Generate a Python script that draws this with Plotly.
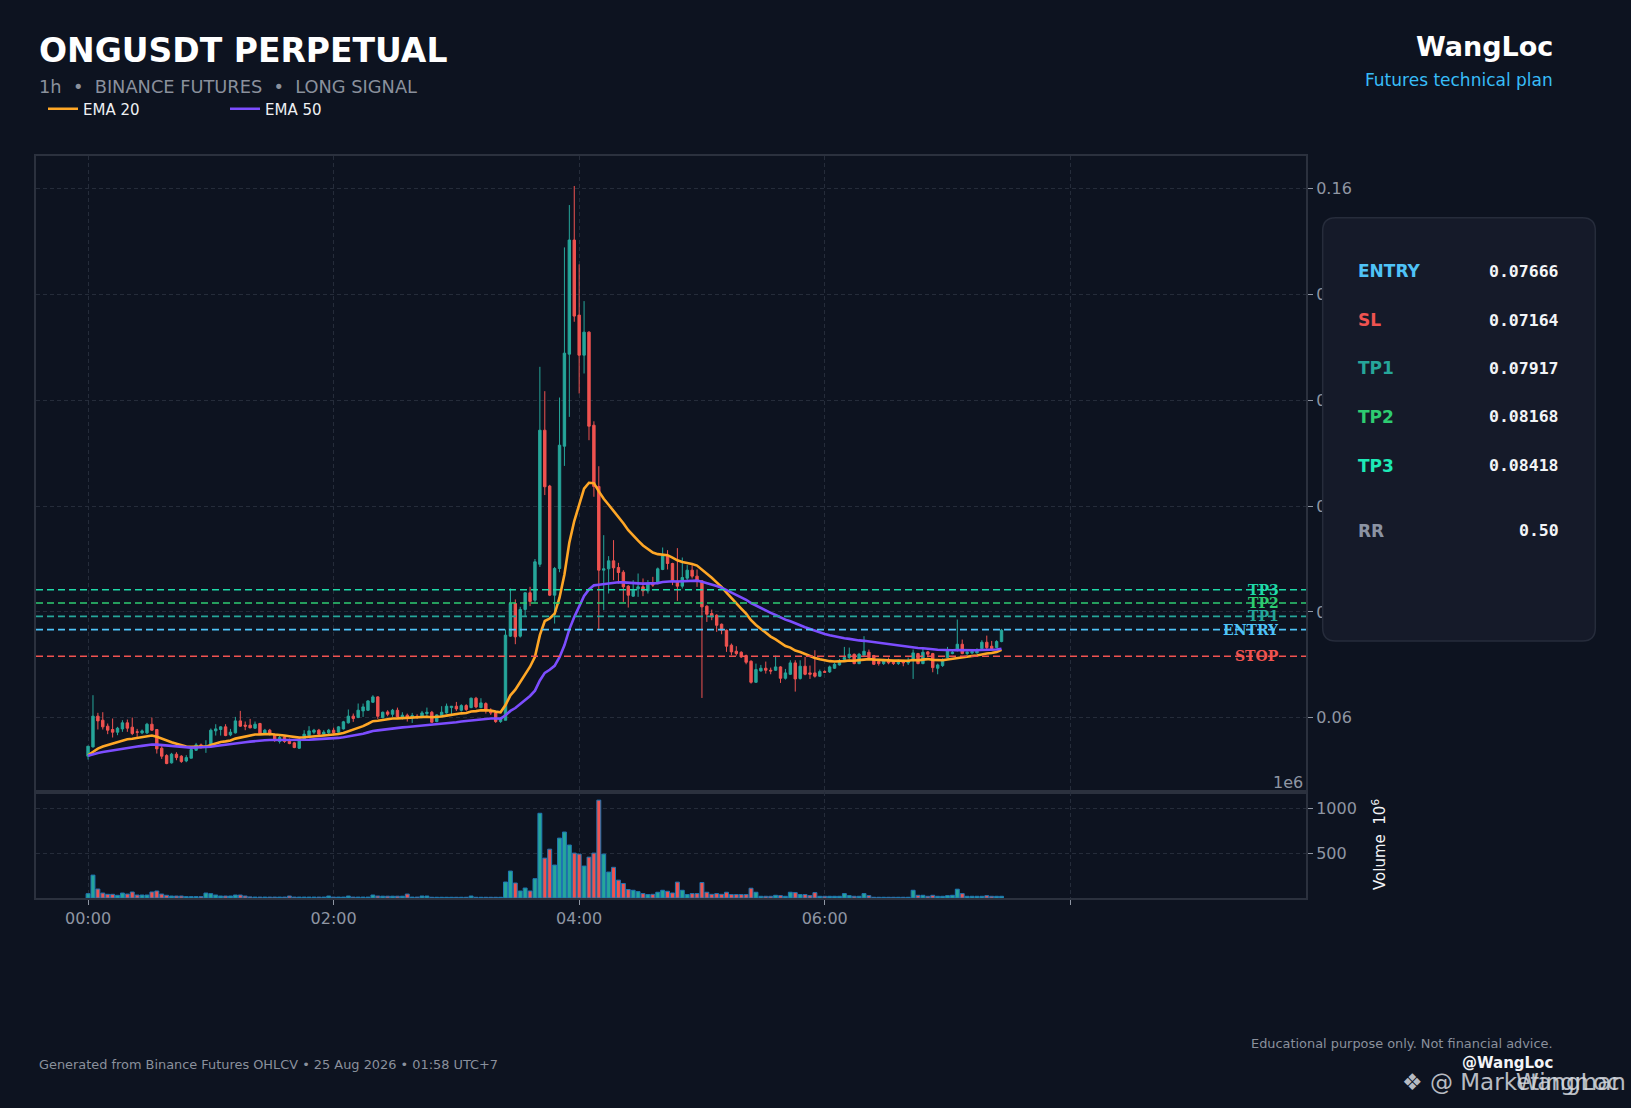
import pandas as pd
import plotly.graph_objects as go
from plotly.subplots import make_subplots

# --- data (index 0 = 00:00) ---
opens = [
    0.05276, 0.05452, 0.06032, 0.05956, 0.05843, 0.05780, 0.05729, 0.05792, 0.05906, 0.05824,
    0.05736, 0.05717, 0.05717, 0.05880, 0.05780, 0.05427, 0.05288, 0.05150, 0.05314, 0.05276,
    0.05187, 0.05238, 0.05389, 0.05490, 0.05440, 0.05502, 0.05755, 0.05780, 0.05830, 0.05679,
    0.05717, 0.05943, 0.05862, 0.05862, 0.05805, 0.05893, 0.05704, 0.05767, 0.05679, 0.05553,
    0.05641, 0.05578, 0.05528, 0.05427, 0.05578, 0.05666, 0.05729, 0.05767, 0.05692, 0.05717,
    0.05767, 0.05729, 0.05792, 0.05906, 0.06032, 0.06006, 0.06131, 0.06144, 0.06295, 0.06396,
    0.06005, 0.06112, 0.06068, 0.06144, 0.06018, 0.06050, 0.06012, 0.06031, 0.06031, 0.06081,
    0.06106, 0.05930, 0.06043, 0.06094, 0.06194, 0.06220, 0.06144, 0.06232, 0.06194, 0.06371,
    0.06194, 0.06270, 0.06131, 0.06094, 0.05930, 0.05955, 0.07543, 0.08160, 0.07543, 0.08047,
    0.08362, 0.08222, 0.08900, 0.11432, 0.10377, 0.08317, 0.08820, 0.11130, 0.12868, 0.15023,
    0.13606, 0.12849, 0.13284, 0.11526, 0.10370, 0.08789, 0.08814, 0.08965, 0.08839, 0.08751,
    0.08487, 0.08298, 0.08436, 0.08474, 0.08398, 0.08537, 0.08550, 0.08802, 0.09060, 0.08915,
    0.08581, 0.08487, 0.08638, 0.08789, 0.08676, 0.08587, 0.08109, 0.07970, 0.07938, 0.07768,
    0.07655, 0.07372, 0.07258, 0.07239, 0.07176, 0.07069, 0.06672, 0.06886, 0.06937, 0.06899,
    0.06899, 0.06962, 0.06748, 0.06823, 0.07038, 0.06742, 0.06975, 0.06849, 0.06849, 0.06786,
    0.06874, 0.06868, 0.06937, 0.07000, 0.07101, 0.07138, 0.07201, 0.07025, 0.07183, 0.07239,
    0.07176, 0.07063, 0.07025, 0.07088, 0.07063, 0.07025, 0.07063, 0.07038, 0.07113, 0.07214,
    0.07025, 0.07246, 0.07214, 0.06937, 0.06987, 0.07138, 0.07214, 0.07277, 0.07390, 0.07214,
    0.07227, 0.07227, 0.07309, 0.07428, 0.07353, 0.07327, 0.07441,
]
highs = [
    0.05465, 0.06428, 0.06095, 0.06107, 0.05893, 0.05988, 0.05830, 0.05956, 0.05969, 0.06006,
    0.05792, 0.05780, 0.05906, 0.06006, 0.05780, 0.05465, 0.05314, 0.05339, 0.05351, 0.05295,
    0.05295, 0.05427, 0.05528, 0.05515, 0.05578, 0.05799, 0.05880, 0.05843, 0.05880, 0.05792,
    0.06019, 0.06132, 0.05931, 0.05981, 0.05931, 0.05906, 0.05792, 0.05792, 0.05704, 0.05666,
    0.05666, 0.05610, 0.05547, 0.05578, 0.05767, 0.05843, 0.05792, 0.05792, 0.05767, 0.05792,
    0.05817, 0.05843, 0.05943, 0.06158, 0.06082, 0.06271, 0.06270, 0.06333, 0.06428, 0.06409,
    0.06119, 0.06144, 0.06169, 0.06194, 0.06106, 0.06081, 0.06094, 0.06068, 0.06131, 0.06194,
    0.06131, 0.06068, 0.06220, 0.06270, 0.06220, 0.06301, 0.06258, 0.06258, 0.06384, 0.06396,
    0.06371, 0.06295, 0.06182, 0.06131, 0.06018, 0.07669, 0.08443, 0.08236, 0.08097, 0.08374,
    0.08475, 0.09000, 0.12629, 0.12169, 0.10400, 0.08850, 0.12049, 0.14884, 0.15684, 0.16044,
    0.14563, 0.13870, 0.13300, 0.11600, 0.10752, 0.09450, 0.09054, 0.09356, 0.08928, 0.08789,
    0.08506, 0.08600, 0.08726, 0.08632, 0.08600, 0.08663, 0.08839, 0.09217, 0.09167, 0.08928,
    0.09205, 0.09028, 0.08884, 0.08884, 0.08802, 0.08600, 0.08127, 0.08045, 0.07957, 0.07781,
    0.07668, 0.07403, 0.07353, 0.07258, 0.07195, 0.07088, 0.07025, 0.07000, 0.07063, 0.06949,
    0.07176, 0.06975, 0.06924, 0.07088, 0.07088, 0.07088, 0.07151, 0.06987, 0.07277, 0.06912,
    0.06899, 0.06987, 0.07038, 0.07113, 0.07340, 0.07327, 0.07214, 0.07227, 0.07542, 0.07290,
    0.07189, 0.07101, 0.07113, 0.07138, 0.07088, 0.07101, 0.07088, 0.07138, 0.07290, 0.07227,
    0.07302, 0.07264, 0.07227, 0.07025, 0.07126, 0.07340, 0.07277, 0.07857, 0.07479, 0.07264,
    0.07264, 0.07315, 0.07466, 0.07554, 0.07453, 0.07466, 0.07680,
]
lows = [
    0.05213, 0.05440, 0.05780, 0.05780, 0.05692, 0.05629, 0.05673, 0.05736, 0.05736, 0.05673,
    0.05641, 0.05692, 0.05692, 0.05754, 0.05326, 0.05225, 0.05125, 0.05137, 0.05200, 0.05150,
    0.05162, 0.05238, 0.05376, 0.05420, 0.05339, 0.05490, 0.05666, 0.05666, 0.05654, 0.05654,
    0.05704, 0.05830, 0.05767, 0.05805, 0.05792, 0.05692, 0.05692, 0.05666, 0.05547, 0.05515,
    0.05528, 0.05502, 0.05427, 0.05414, 0.05565, 0.05641, 0.05692, 0.05666, 0.05666, 0.05692,
    0.05666, 0.05717, 0.05780, 0.05893, 0.05925, 0.05994, 0.06018, 0.06131, 0.06282, 0.05980,
    0.05993, 0.06031, 0.06018, 0.06005, 0.05968, 0.05930, 0.05904, 0.05980, 0.05993, 0.06018,
    0.05905, 0.05917, 0.06018, 0.06081, 0.06068, 0.06131, 0.06119, 0.06131, 0.06182, 0.06182,
    0.06182, 0.06081, 0.06056, 0.05905, 0.05905, 0.05955, 0.07530, 0.07391, 0.07517, 0.07921,
    0.08110, 0.08180, 0.08850, 0.10207, 0.08300, 0.07781, 0.08750, 0.10758, 0.11684, 0.13480,
    0.12125, 0.12503, 0.11243, 0.10175, 0.07674, 0.08033, 0.08348, 0.08600, 0.08537, 0.08190,
    0.08083, 0.08285, 0.08285, 0.08298, 0.08348, 0.08474, 0.08524, 0.08789, 0.08802, 0.08506,
    0.08209, 0.08443, 0.08600, 0.08632, 0.08474, 0.06376, 0.07812, 0.07844, 0.07624, 0.07579,
    0.07246, 0.07182, 0.07176, 0.07132, 0.07012, 0.06647, 0.06660, 0.06874, 0.06836, 0.06823,
    0.06886, 0.06660, 0.06723, 0.06811, 0.06496, 0.06723, 0.06805, 0.06735, 0.06760, 0.06773,
    0.06849, 0.06849, 0.06924, 0.06987, 0.07075, 0.07113, 0.07012, 0.07012, 0.07164, 0.07113,
    0.07000, 0.06987, 0.07000, 0.07012, 0.07000, 0.07000, 0.06975, 0.07000, 0.06735, 0.07012,
    0.07012, 0.07151, 0.06861, 0.06823, 0.06962, 0.07126, 0.07201, 0.07252, 0.07201, 0.07189,
    0.07201, 0.07214, 0.07290, 0.07277, 0.07290, 0.07315, 0.07428,
]
closes = [
    0.05465, 0.06032, 0.05943, 0.05830, 0.05767, 0.05729, 0.05805, 0.05906, 0.05805, 0.05704,
    0.05729, 0.05754, 0.05880, 0.05767, 0.05414, 0.05276, 0.05137, 0.05314, 0.05250, 0.05175,
    0.05250, 0.05402, 0.05490, 0.05452, 0.05465, 0.05767, 0.05792, 0.05830, 0.05666, 0.05729,
    0.05943, 0.05843, 0.05843, 0.05811, 0.05880, 0.05704, 0.05767, 0.05704, 0.05578, 0.05628,
    0.05553, 0.05515, 0.05440, 0.05566, 0.05692, 0.05754, 0.05767, 0.05692, 0.05729, 0.05767,
    0.05717, 0.05830, 0.05925, 0.06032, 0.05988, 0.06145, 0.06207, 0.06320, 0.06396, 0.06031,
    0.06106, 0.06068, 0.06144, 0.06018, 0.06050, 0.06005, 0.06043, 0.06024, 0.06094, 0.06106,
    0.05917, 0.06056, 0.06106, 0.06220, 0.06220, 0.06169, 0.06232, 0.06157, 0.06371, 0.06207,
    0.06283, 0.06144, 0.06094, 0.05930, 0.05980, 0.07562, 0.08160, 0.07530, 0.08047, 0.08362,
    0.08198, 0.08947, 0.11432, 0.10364, 0.08317, 0.08821, 0.11149, 0.12887, 0.15023, 0.13587,
    0.12849, 0.13284, 0.11508, 0.10370, 0.08789, 0.08814, 0.08965, 0.08833, 0.08745, 0.08474,
    0.08316, 0.08411, 0.08474, 0.08398, 0.08524, 0.08506, 0.08814, 0.09060, 0.08915, 0.08600,
    0.08487, 0.08650, 0.08789, 0.08676, 0.08600, 0.08096, 0.07957, 0.07907, 0.07749, 0.07655,
    0.07353, 0.07246, 0.07214, 0.07151, 0.07050, 0.06672, 0.06912, 0.06937, 0.06899, 0.06886,
    0.06962, 0.06748, 0.06849, 0.07038, 0.06735, 0.06975, 0.06823, 0.06823, 0.06786, 0.06874,
    0.06861, 0.06962, 0.07012, 0.07063, 0.07138, 0.07201, 0.07025, 0.07201, 0.07258, 0.07138,
    0.07012, 0.07025, 0.07088, 0.07038, 0.07025, 0.07075, 0.07038, 0.07088, 0.07227, 0.07025,
    0.07239, 0.07201, 0.06949, 0.07000, 0.07101, 0.07264, 0.07239, 0.07390, 0.07214, 0.07239,
    0.07252, 0.07290, 0.07428, 0.07327, 0.07309, 0.07441, 0.07655,
]
# volume in millions (axis offset 1e6)
volumes = [
    48, 255, 100, 55, 41, 41, 30, 55, 44, 67,
    33, 33, 33, 67, 78, 44, 30, 22, 22, 22,
    15, 15, 15, 15, 55, 48, 33, 22, 22, 22,
    33, 33, 22, 12, 10, 10, 10, 10, 10, 10,
    10, 22, 10, 10, 10, 10, 10, 10, 10, 22,
    10, 10, 10, 22, 10, 10, 10, 10, 33, 22,
    20, 20, 20, 20, 20, 44, 10, 10, 22, 22,
    8, 8, 8, 8, 8, 8, 8, 8, 22, 8,
    8, 8, 8, 8, 8, 178, 300, 167, 78, 111,
    78, 215, 944, 444, 544, 367, 667, 735, 590, 500,
    489, 356, 455, 500, 1090, 489, 289, 342, 199, 162,
    94, 86, 71, 49, 38, 41, 64, 86, 75, 56,
    177, 86, 38, 49, 49, 173, 64, 41, 49, 41,
    64, 38, 38, 38, 38, 109, 64, 19, 19, 19,
    30, 26, 19, 64, 60, 38, 38, 26, 60, 19,
    19, 19, 19, 19, 49, 26, 19, 19, 49, 26,
    8, 8, 8, 8, 8, 8, 8, 8, 86, 30,
    30, 19, 30, 19, 19, 26, 30, 98, 49, 19,
    19, 19, 19, 26, 19, 19, 19,
]
tick_index = [0, 50, 100, 150, 200]
tick_labels = ["00:00", "02:00", "04:00", "06:00", ""]
price_ticks = [0.06, 0.08, 0.10, 0.12, 0.14, 0.16]

level_names = ["TP3", "TP2", "TP1", "ENTRY", "STOP"]
level_values = [0.08418, 0.08168, 0.07917, 0.07666, 0.07164]
level_colors = ["#1fd9a8", "#2ecc71", "#26a69a", "#4fc3f7", "#ef5350"]

plan_labels = ["ENTRY", "SL", "TP1", "TP2", "TP3", "RR"]
plan_values = ["0.07666", "0.07164", "0.07917", "0.08168", "0.08418", "0.50"]
plan_colors = ["#4fc3f7", "#ef5350", "#26a69a", "#2ecc71", "#1de9b6", "#8b93a3"]

BG = "#0d1320"
GRID = "#252c3a"
FRAME = "#2b313e"
TICK = "#8f96a3"
UP, DOWN = "#26a69a", "#ef5350"
FONT = "DejaVu Sans"

W, H = 1631, 1108
L, R, T, B = 36, 1306, 156, 898


def px(x):
    return (x - L) / (R - L)


def py(y):
    return (B - y) / (B - T)


idx = list(range(len(closes)))
s = pd.Series([opens[0]] + closes)
ema20 = s.ewm(span=20, adjust=False).mean().iloc[1:].tolist()
ema50 = s.ewm(span=50, adjust=False).mean().iloc[1:].tolist()
vol_colors = [UP if c >= o else DOWN for o, c in zip(opens, closes)]

fig = make_subplots(rows=2, cols=1, shared_xaxes=True, vertical_spacing=0,
                    row_heights=[792 - T, B - 792])

fig.add_trace(go.Candlestick(
    x=idx, open=opens, high=highs, low=lows, close=closes,
    increasing=dict(line=dict(color=UP, width=1), fillcolor=UP),
    decreasing=dict(line=dict(color=DOWN, width=1), fillcolor=DOWN),
    showlegend=False, name="ONGUSDT"), row=1, col=1)
fig.add_trace(go.Scatter(x=idx, y=ema20, mode="lines", name="EMA 20",
                         line=dict(color="#ffa726", width=2.6)), row=1, col=1)
fig.add_trace(go.Scatter(x=idx, y=ema50, mode="lines", name="EMA 50",
                         line=dict(color="#7c4dff", width=2.6)), row=1, col=1)
fig.add_trace(go.Bar(x=idx, y=volumes, marker=dict(color=vol_colors, line=dict(color="#1f77b4", width=1)),
                     width=0.8, showlegend=False, name="Volume"), row=2, col=1)

# trade levels
for name, val, col in zip(level_names, level_values, level_colors):
    fig.add_shape(type="line", xref="x domain", yref="y", x0=0, x1=1, y0=val, y1=val,
                  line=dict(color=col, width=1.6, dash="7px,4px"), layer="above")
    fig.add_annotation(xref="paper", yref="y", x=px(1281), y=val, text=f"<b>{name}</b>",
                       showarrow=False, xanchor="right", yanchor="middle",
                       font=dict(family="DejaVu Serif", size=14, color=col))

axis_common = dict(showline=True, linecolor=FRAME, linewidth=2, mirror=True,
                   gridcolor=GRID, griddash="4px,3px", gridwidth=1, zeroline=False)
fig.update_xaxes(range=[-10.6, 248], tickvals=tick_index, ticktext=tick_labels, **axis_common)
fig.update_xaxes(showticklabels=False, ticks="", rangeslider_visible=False, row=1, col=1)
fig.update_xaxes(ticks="outside", ticklen=5, tickcolor=TICK, tickwidth=1,
                 tickfont=dict(family=FONT, size=16, color=TICK), row=2, col=1)
fig.update_yaxes(side="right", range=[0.046, 0.1661], tickvals=price_ticks,
                 ticktext=[f"{v:.2f}" for v in price_ticks], ticks="outside", ticklen=5,
                 tickcolor=TICK, tickfont=dict(family=FONT, size=16, color=TICK),
                 **axis_common, row=1, col=1)
fig.update_yaxes(side="right", range=[0, 1181], tickvals=[500, 1000], ticktext=["500", "1000"],
                 ticks="outside", ticklen=5, tickcolor=TICK,
                 tickfont=dict(family=FONT, size=16, color=TICK), **axis_common, row=2, col=1)

# plan panel
x0, x1, yt, yb = px(1322.7), px(1595.3), py(217.7), py(641)
rx, ry = 13 / (R - L), 13 / (B - T)
panel = (f"M {x0 + rx},{yt} L {x1 - rx},{yt} Q {x1},{yt} {x1},{yt - ry} "
         f"L {x1},{yb + ry} Q {x1},{yb} {x1 - rx},{yb} L {x0 + rx},{yb} "
         f"Q {x0},{yb} {x0},{yb + ry} L {x0},{yt - ry} Q {x0},{yt} {x0 + rx},{yt} Z")
fig.add_shape(type="path", xref="paper", yref="paper", path=panel, fillcolor="#151a29",
              line=dict(color="#262c3b", width=1.5), layer="above")
row_y = [271, 320, 368.3, 416.7, 465.7, 530.7]
for lab, val, col, yy in zip(plan_labels, plan_values, plan_colors, row_y):
    fig.add_annotation(xref="paper", yref="paper", x=px(1356), y=py(yy), text=f"<b>{lab}</b>",
                       showarrow=False, xanchor="left", yanchor="middle",
                       font=dict(family=FONT, size=17, color=col))
    fig.add_annotation(xref="paper", yref="paper", x=px(1561), y=py(yy), text=f"<b>{val}</b>",
                       showarrow=False, xanchor="right", yanchor="middle",
                       font=dict(family="DejaVu Sans Mono", size=16.5, color="#f2f4f7"))

texts = [
    ("<b>ONGUSDT PERPETUAL</b>", 37, 50, "left", FONT, 33, "#ffffff"),
    ("1h  •  BINANCE FUTURES  •  LONG SIGNAL", 37, 86.5, "left", FONT, 17.8, "#8a909c"),
    ("<b>WangLoc</b>", 1555, 46.5, "right", FONT, 27, "#ffffff"),
    ("Futures technical plan", 1555, 80, "right", FONT, 17, "#38bdf8"),
    ("Generated from Binance Futures OHLCV • 25 Aug 2026 • 01:58 UTC+7", 37, 1064, "left", FONT, 12.9, "#8a909c"),
    ("Educational purpose only. Not financial advice.", 1555, 1043, "right", FONT, 12.9, "#8a909c"),
    ("<b>@WangLoc</b>", 1555, 1063, "right", FONT, 15, "#f2f4f7"),
    ("1e6", 1305, 782, "right", FONT, 16, TICK),
]
for txt, xx, yy, anchor, fam, size, col in texts:
    fig.add_annotation(xref="paper", yref="paper", x=px(xx), y=py(yy), text=txt, showarrow=False,
                       xanchor=anchor, yanchor="middle", font=dict(family=fam, size=size, color=col))

fig.add_annotation(xref="paper", yref="paper", x=px(1379), y=py(845), text="Volume  10<sup>6</sup>",
                   textangle=-90, showarrow=False, xanchor="center", yanchor="middle",
                   font=dict(family=FONT, size=15, color="#f2f4f7"))

# watermark overlay
fig.add_annotation(xref="paper", yref="paper", x=px(1400), y=py(1082), text="❖ @ Marketingman",
                   showarrow=False, xanchor="left", yanchor="middle", opacity=0.85,
                   font=dict(family=FONT, size=23, color="#d5d9df"))
fig.add_annotation(xref="paper", yref="paper", x=px(1622), y=py(1082), text="WangLoc",
                   showarrow=False, xanchor="right", yanchor="middle", opacity=0.85,
                   font=dict(family=FONT, size=23, color="#d5d9df"))

fig.update_layout(
    width=W, height=H,
    margin=dict(l=L, r=W - R, t=T, b=H - B),
    paper_bgcolor=BG, plot_bgcolor=BG,
    font=dict(family=FONT, color=TICK),
    legend=dict(orientation="h", x=px(43), y=py(109), xanchor="left", yanchor="middle",
                entrywidth=137, entrywidthmode="pixels", bgcolor="rgba(0,0,0,0)",
                font=dict(family=FONT, size=15, color="#eef0f3")),
)

fig.write_html("out.html", config={"displayModeBar": False},
               post_script="document.body.style.margin='0px';")
